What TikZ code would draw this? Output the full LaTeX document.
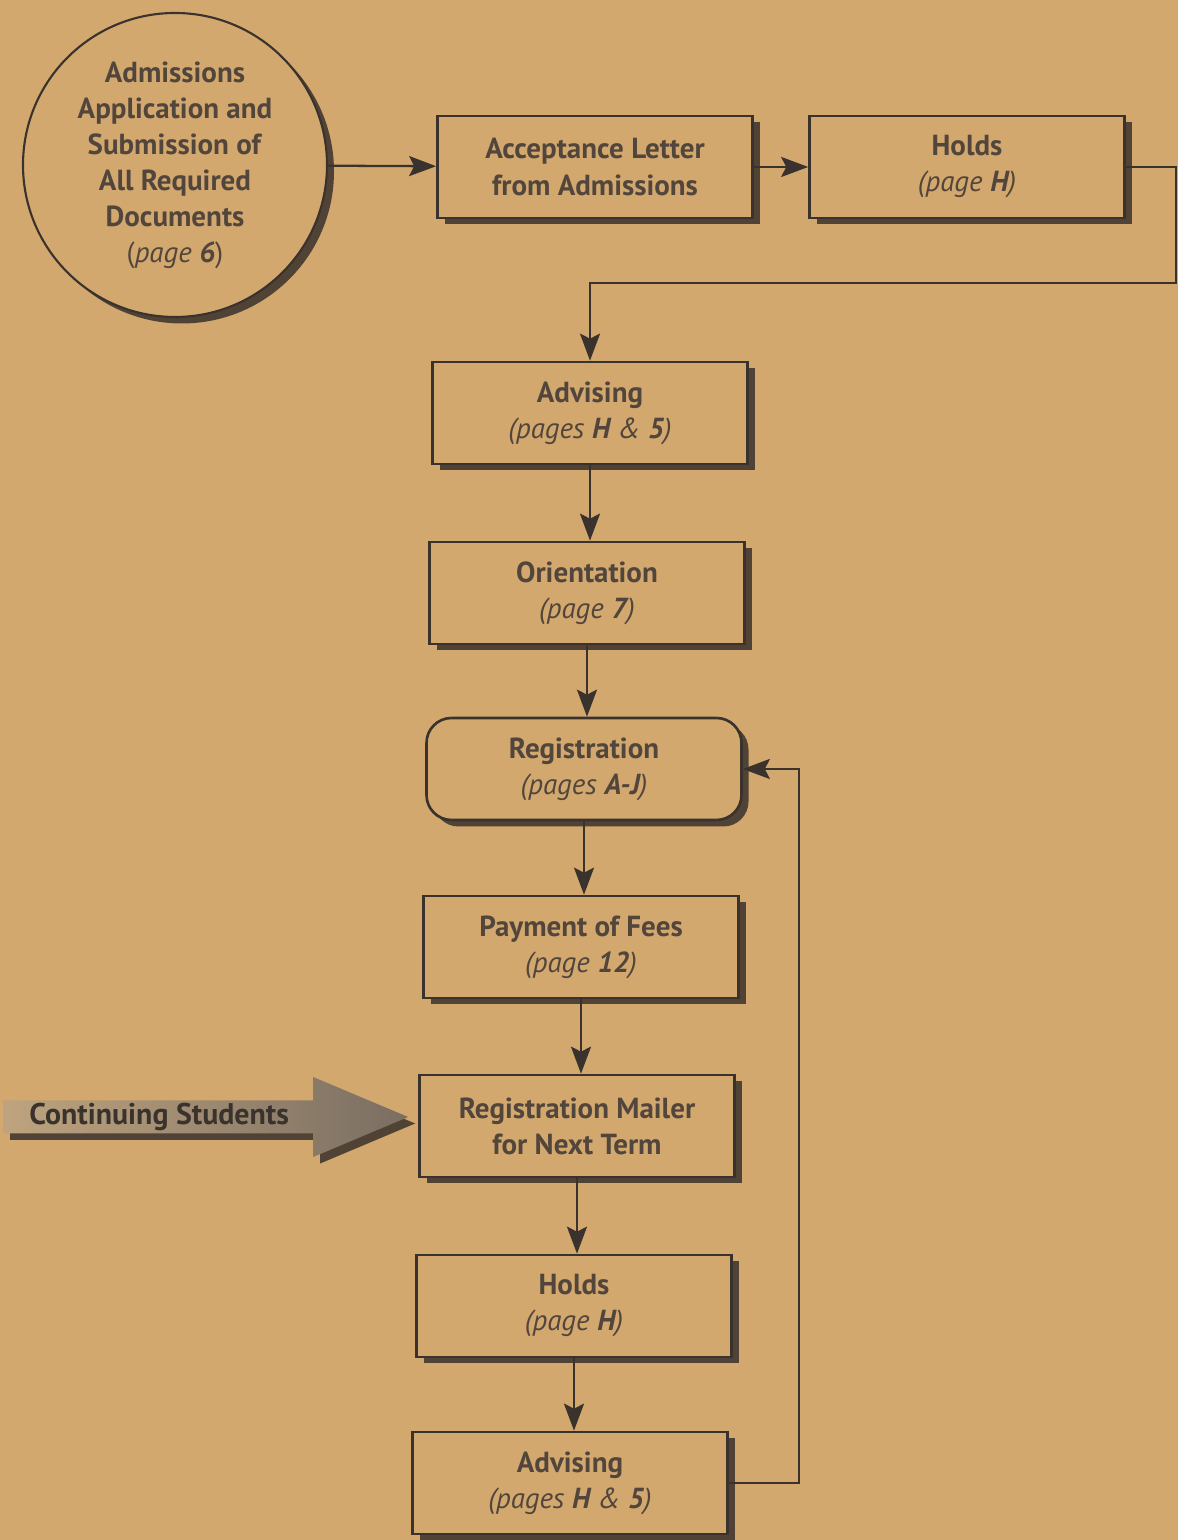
\documentclass[tikz,border=0pt]{standalone}
\usepackage{fontspec}
\setmainfont{PT Sans}
\usetikzlibrary{shadows,arrows.meta}
\definecolor{paper}{RGB}{211,168,110}
\definecolor{ink}{RGB}{58,50,44}
\definecolor{txt}{RGB}{82,70,60}
\begin{document}
\begin{tikzpicture}[
  >={Stealth[length=5.4mm,width=4mm,inset=1mm]},
  shade/.style={drop shadow={shadow xshift=0.14cm,shadow yshift=-0.13cm,fill=ink,opacity=0.85}},
  box/.style={rectangle,draw=ink,line width=1.5pt,fill=paper,minimum width=6.3cm,minimum height=2.04cm,
    align=center,text=txt,font=\fontsize{16.5}{20.5}\selectfont,shade},
  link/.style={draw=ink,line width=1.3pt,->}
]
\useasboundingbox (0,0) rectangle (23.56,30.8);
\fill[paper] (0,0) rectangle (23.56,30.8);
%
\node at (3.5,27.5) [circle,draw=ink,line width=1.2pt,fill=paper,minimum size=6.08cm,align=center,text=txt,
  font=\fontsize{16.5}{20.5}\selectfont,shade] (circ)
  {\textbf{Admissions}\\\textbf{Application and}\\\textbf{Submission of}\\\textbf{All Required}\\\textbf{Documents}\\(\textit{page \textbf{6}})};
\node at (11.9,27.46) [box] (acc) {\textbf{Acceptance Letter}\\\textbf{from Admissions}};
\node at (19.34,27.46) [box] (holdsA) {\textbf{Holds}\\\textit{(page \textbf{H})}};
%
\node at (11.8,22.54) [box] (advA) {\textbf{Advising}\\\textit{(pages \textbf{H} \& \textbf{5})}};
\node at (11.74,18.94) [box] (orient) {\textbf{Orientation}\\\textit{(page \textbf{7})}};
\node at (11.68,15.42) [box,rounded corners=0.5cm] (reg) {\textbf{Registration}\\\textit{(pages \textbf{A-J})}};
\node at (11.62,11.86) [box] (pay) {\textbf{Payment of Fees}\\\textit{(page \textbf{12})}};
\node at (11.54,8.28) [box] (mail) {\textbf{Registration Mailer}\\\textbf{for Next Term}};
\node at (11.48,4.68) [box] (holdsB) {\textbf{Holds}\\\textit{(page \textbf{H})}};
\node at (11.4,1.14) [box] (advB) {\textbf{Advising}\\\textit{(pages \textbf{H} \& \textbf{5})}};
%
\coordinate (turn) at (23.52,25.14);
\coordinate (cstip) at ([shift={(-0.2,0.18)}]mail.west);
%
\draw[link] (circ) -- (acc);
\draw[link] (acc) -- (holdsA);
\draw[link] (holdsA.east) -| (turn) -| (advA.north);
\draw[link] (advA.south) -- (advA.south |- orient.north);
\draw[link] (orient.south) -- (orient.south |- reg.north);
\draw[link] (reg.south) -- (reg.south |- pay.north);
\draw[link] (pay.south) -- (pay.south |- mail.north);
\draw[link] (mail.south) -- (mail.south |- holdsB.north);
\draw[link] (holdsB.south) -- (holdsB.south |- advB.north);
\draw[link] (advB.east) -- ++(1.41,0) |- (reg.east);
%
\shade[left color={rgb,255:red,190;green,164;blue,126},right color={rgb,255:red,122;green,110;blue,98}]
  (cstip) -- ++(-1.9,0.8) -- ++(0,-0.47) -- ++(-6.2,0) -- ++(0,-0.66) -- ++(6.2,0) -- ++(0,-0.47) -- cycle;
\node at ([xshift=-7.7cm]cstip) [anchor=west,text=ink,font=\fontsize{17}{20}\selectfont\bfseries] (contin) {Continuing Students};
\end{tikzpicture}
\end{document}
